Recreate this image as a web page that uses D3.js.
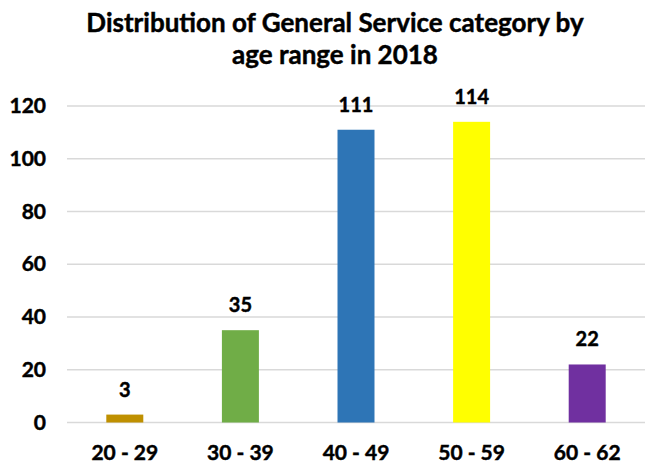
<!DOCTYPE html>
<html>
<head>
<meta charset="utf-8">
<script src="https://cdn.jsdelivr.net/npm/d3@7"></script>
<style>
  body { margin: 0; background: #fff; }
  svg { display: block; font-family: Lato, "Open Sans", sans-serif; font-weight: bold; }
  text { stroke: #000; stroke-width: 0.45px; }
</style>
</head>
<body>
<svg id="chart" width="646" height="465"></svg>
<script>
// dados do gráfico
const categories = ['20 - 29', '30 - 39', '40 - 49', '50 - 59', '60 - 62'];
const values = [3, 35, 111, 114, 22];
const barColors = ['#BF9000', '#70AD47', '#2E75B6', '#FFFF00', '#7030A0'];
const yTicks = [0, 20, 40, 60, 80, 100, 120];
const titleLines = ['Distribution of General Service category by', 'age range in 2018'];

const svg = d3.select('#chart');
const margin = { top: 106, right: 1, bottom: 42, left: 67 };
const width = 646, height = 465;

const x = d3.scaleBand()
    .domain(categories)
    .range([margin.left, width - margin.right])
    .paddingInner(0.68)
    .paddingOuter(0.34);

const y = d3.scaleLinear()
    .domain([0, 120])
    .range([height - margin.bottom - 0.5, margin.top]);

// linhas de grade
svg.append('g')
    .selectAll('line')
    .data(yTicks)
    .join('line')
    .attr('x1', margin.left)
    .attr('x2', width - margin.right)
    .attr('y1', d => y(d))
    .attr('y2', d => y(d))
    .attr('stroke', '#d9d9d9')
    .attr('stroke-width', 1.3);

// eixo y
const yAxis = svg.append('g')
    .attr('transform', `translate(${margin.left - 21},0)`)
    .call(d3.axisLeft(y).tickValues(yTicks).tickSize(0).tickPadding(0));
yAxis.select('.domain').remove();
yAxis.selectAll('text')
    .attr('font-family', 'Lato, sans-serif')
    .attr('font-size', 21)
    .attr('font-weight', 'bold')
    .attr('fill', '#000');

// eixo x
const xAxis = svg.append('g')
    .attr('transform', `translate(0,${height - margin.bottom})`)
    .call(d3.axisBottom(x).tickSize(0).tickPadding(22));
xAxis.select('.domain').remove();
xAxis.selectAll('text')
    .attr('font-family', 'Lato, sans-serif')
    .attr('font-size', 21)
    .attr('font-weight', 'bold')
    .attr('fill', '#000');

// barras
svg.append('g')
    .selectAll('rect')
    .data(values)
    .join('rect')
    .attr('x', (d, i) => x(categories[i]))
    .attr('width', x.bandwidth())
    .attr('y', d => y(d))
    .attr('height', d => y(0) - y(d))
    .attr('fill', (d, i) => barColors[i]);

// rótulos de dados
svg.append('g')
    .selectAll('text')
    .data(values)
    .join('text')
    .attr('x', (d, i) => x(categories[i]) + x.bandwidth() / 2)
    .attr('y', d => y(d) - 18)
    .attr('text-anchor', 'middle')
    .attr('font-size', 20)
    .attr('fill', '#000')
    .text(d => d);

// título
svg.append('g')
    .selectAll('text')
    .data(titleLines)
    .join('text')
    .attr('x', 335)
    .attr('y', (d, i) => 32 + i * 32)
    .attr('text-anchor', 'middle')
    .attr('font-size', 26)
    .attr('fill', '#000')
    .text(d => d);
</script>
</body>
</html>
